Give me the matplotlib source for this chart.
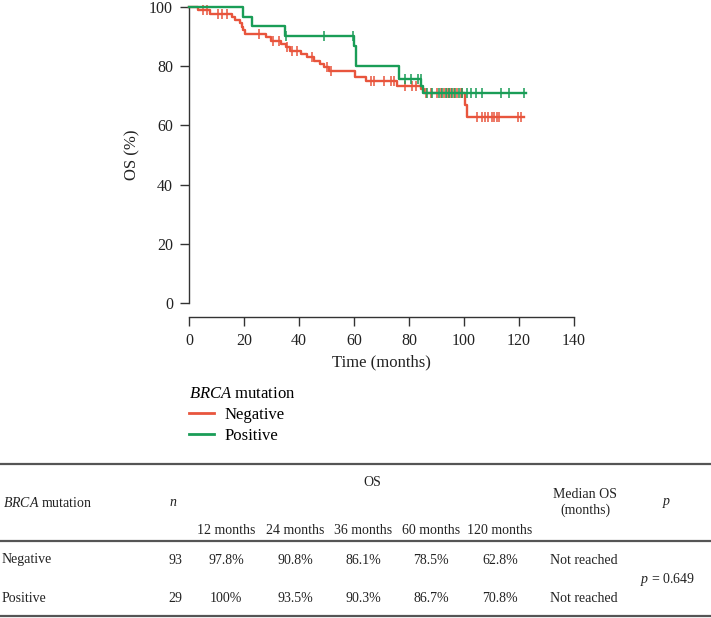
import numpy as np
import matplotlib
matplotlib.use("Agg")
import matplotlib.pyplot as plt
from matplotlib.lines import Line2D

plt.rcParams.update({
    "font.family": ["Liberation Serif", "DejaVu Serif"],
    "mathtext.fontset": "custom",
    "mathtext.rm": "Liberation Serif",
    "mathtext.it": "Liberation Serif:italic",
})

W, H = 711, 618
RED, GREEN = "#E8553D", "#1A9D57"
INK = "#333333"

# ---- Kaplan-Meier curves (time in months, OS in %) ----
neg_event_t = [3.3, 7.7, 15.5, 16.8, 18.6, 19.2, 19.8, 20.4, 28.0, 29.8, 33.6, 35.3,
               36.8, 40.6, 43.0, 45.3, 47.8, 49.0, 50.8, 60.5, 64.2, 75.6, 84.2, 85.5,
               100.5, 101.2]
neg_event_s = [98.9, 97.8, 96.7, 95.6, 94.5, 93.4, 92.3, 90.8, 89.7, 88.6, 87.5, 86.4,
               85.2, 84.1, 83.0, 81.9, 80.8, 79.7, 78.5, 76.2, 75.0, 73.4, 72.2, 71.0,
               66.9, 62.8]
neg_end = 121.8
neg_censor = [5.2, 6.4, 10.5, 11.9, 13.7, 25.3, 30.7, 32.6, 35.6, 37.4, 39.2, 44.7,
              50.2, 51.8, 66.0, 67.2, 70.8, 73.3, 74.5, 78.7, 81.2, 82.4, 86.0, 87.9,
              90.3, 91.5, 92.7, 93.9, 94.5, 95.1, 96.3, 97.5, 98.8, 99.4, 104.9, 106.4,
              107.7, 108.9, 110.0, 111.0, 112.0, 112.8, 119.6, 120.7]

pos_event_t = [19.8, 22.8, 35.0, 60.0, 60.9, 76.2, 84.3, 85.2]
pos_event_s = [96.7, 93.5, 90.3, 86.7, 80.0, 75.6, 73.3, 70.8]
pos_end = 122.5
pos_censor = [35.2, 49.0, 59.8, 78.7, 80.6, 83.1, 84.2, 86.6, 88.4, 90.8, 92.1, 93.3,
              94.5, 95.7, 96.9, 98.1, 99.4, 101.2, 102.6, 104.3, 106.5, 113.4, 116.2,
              121.7]

groups = ["Negative", "Positive"]
legend_title = r"$\it{BRCA}$ mutation"

# ---- summary table ----
tab_times = ["12 months", "24 months", "36 months", "60 months", "120 months"]
tab_n = ["93", "29"]
tab_os = [["97.8%", "90.8%", "86.1%", "78.5%", "62.8%"],
          ["100%", "93.5%", "90.3%", "86.7%", "70.8%"]]
tab_median = ["Not reached", "Not reached"]
tab_p = "0.649"


def px(x, y):
    return x / W, 1 - y / H


def km_arrays(et, es, end):
    t = np.r_[0.0, et, end]
    s = np.r_[100.0, es, es[-1]]
    return t, s


def surv_at(t, s, tc):
    idx = np.searchsorted(t, tc, side="right") - 1
    return s[idx]


fig = plt.figure(figsize=(W / 100, H / 100), dpi=100)
ax = fig.add_axes([189 / W, 1 - 303 / H, (574 - 189) / W, (303 - 7) / H])

for (et, es, end, cens), col in zip(
        [(neg_event_t, neg_event_s, neg_end, neg_censor),
         (pos_event_t, pos_event_s, pos_end, pos_censor)], [RED, GREEN]):
    t, s = km_arrays(et, es, end)
    ax.plot(t, s, drawstyle="steps-post", color=col, lw=1.7, clip_on=False, zorder=3)
    ax.plot(cens, surv_at(t, s, np.asarray(cens)), ls="none", marker="|", ms=7.5,
            mew=1.1, color=col, clip_on=False, zorder=3)

ax.set_xlim(0, 140)
ax.set_ylim(0, 100)
ax.set_xticks(np.arange(0, 141, 20))
ax.set_yticks(np.arange(0, 101, 20))
for side in ["top", "right"]:
    ax.spines[side].set_visible(False)
for side in ["left", "bottom"]:
    ax.spines[side].set_color(INK)
    ax.spines[side].set_linewidth(1.0)
ax.spines["bottom"].set_position(("outward", 10))
ax.tick_params(axis="both", length=6.5, width=1.0, color=INK, labelsize=11.5,
               labelcolor="#222222", pad=5)
ax.set_xlabel("Time (months)", fontsize=12, color="#222222", labelpad=4)
ax.set_ylabel("OS (%)", fontsize=12, color="#222222", labelpad=6)

handles = [Line2D([], [], color=RED, lw=2), Line2D([], [], color=GREEN, lw=2)]
fig.legend(handles, groups, title=legend_title, loc="upper left",
           bbox_to_anchor=px(189, 386), frameon=False, fontsize=12,
           title_fontsize=12, alignment="left", borderpad=0, borderaxespad=0,
           handlelength=1.5, handletextpad=0.65, labelspacing=0.3)

# ---- table ----
for y in [464, 541, 616]:
    fig.add_artist(Line2D([0, 1], [1 - y / H] * 2, transform=fig.transFigure,
                          color="#555555", lw=1.6))

fs = 10
tc = "#222222"
col_x = [226, 295, 363, 431, 500]
fig.text(*px(3, 503), legend_title, fontsize=fs, color=tc, ha="left", va="center")
fig.text(*px(173, 503), r"$\it{n}$", fontsize=fs, color=tc, ha="center", va="center")
fig.text(*px(372, 483), "OS", fontsize=fs, color=tc, ha="center", va="center")
for x, lab in zip(col_x, tab_times):
    fig.text(*px(x, 530), lab, fontsize=fs, color=tc, ha="center", va="center")
fig.text(*px(585, 495), "Median OS", fontsize=fs, color=tc, ha="center", va="center")
fig.text(*px(585, 510), "(months)", fontsize=fs, color=tc, ha="center", va="center")
fig.text(*px(667, 503), r"$\it{p}$", fontsize=fs, color=tc, ha="center", va="center")

for y, g, n, vals, med in zip([560, 598], groups, tab_n, tab_os, tab_median):
    fig.text(*px(2, y), g, fontsize=fs, color=tc, ha="left", va="center")
    fig.text(*px(175, y), n, fontsize=fs, color=tc, ha="center", va="center")
    for x, v in zip(col_x, vals):
        fig.text(*px(x, y), v, fontsize=fs, color=tc, ha="center", va="center")
    fig.text(*px(584, y), med, fontsize=fs, color=tc, ha="center", va="center")
fig.text(*px(668, 579), r"$\it{p}$ = " + tab_p, fontsize=fs, color=tc,
         ha="center", va="center")

fig.savefig("out.png", dpi=100)
